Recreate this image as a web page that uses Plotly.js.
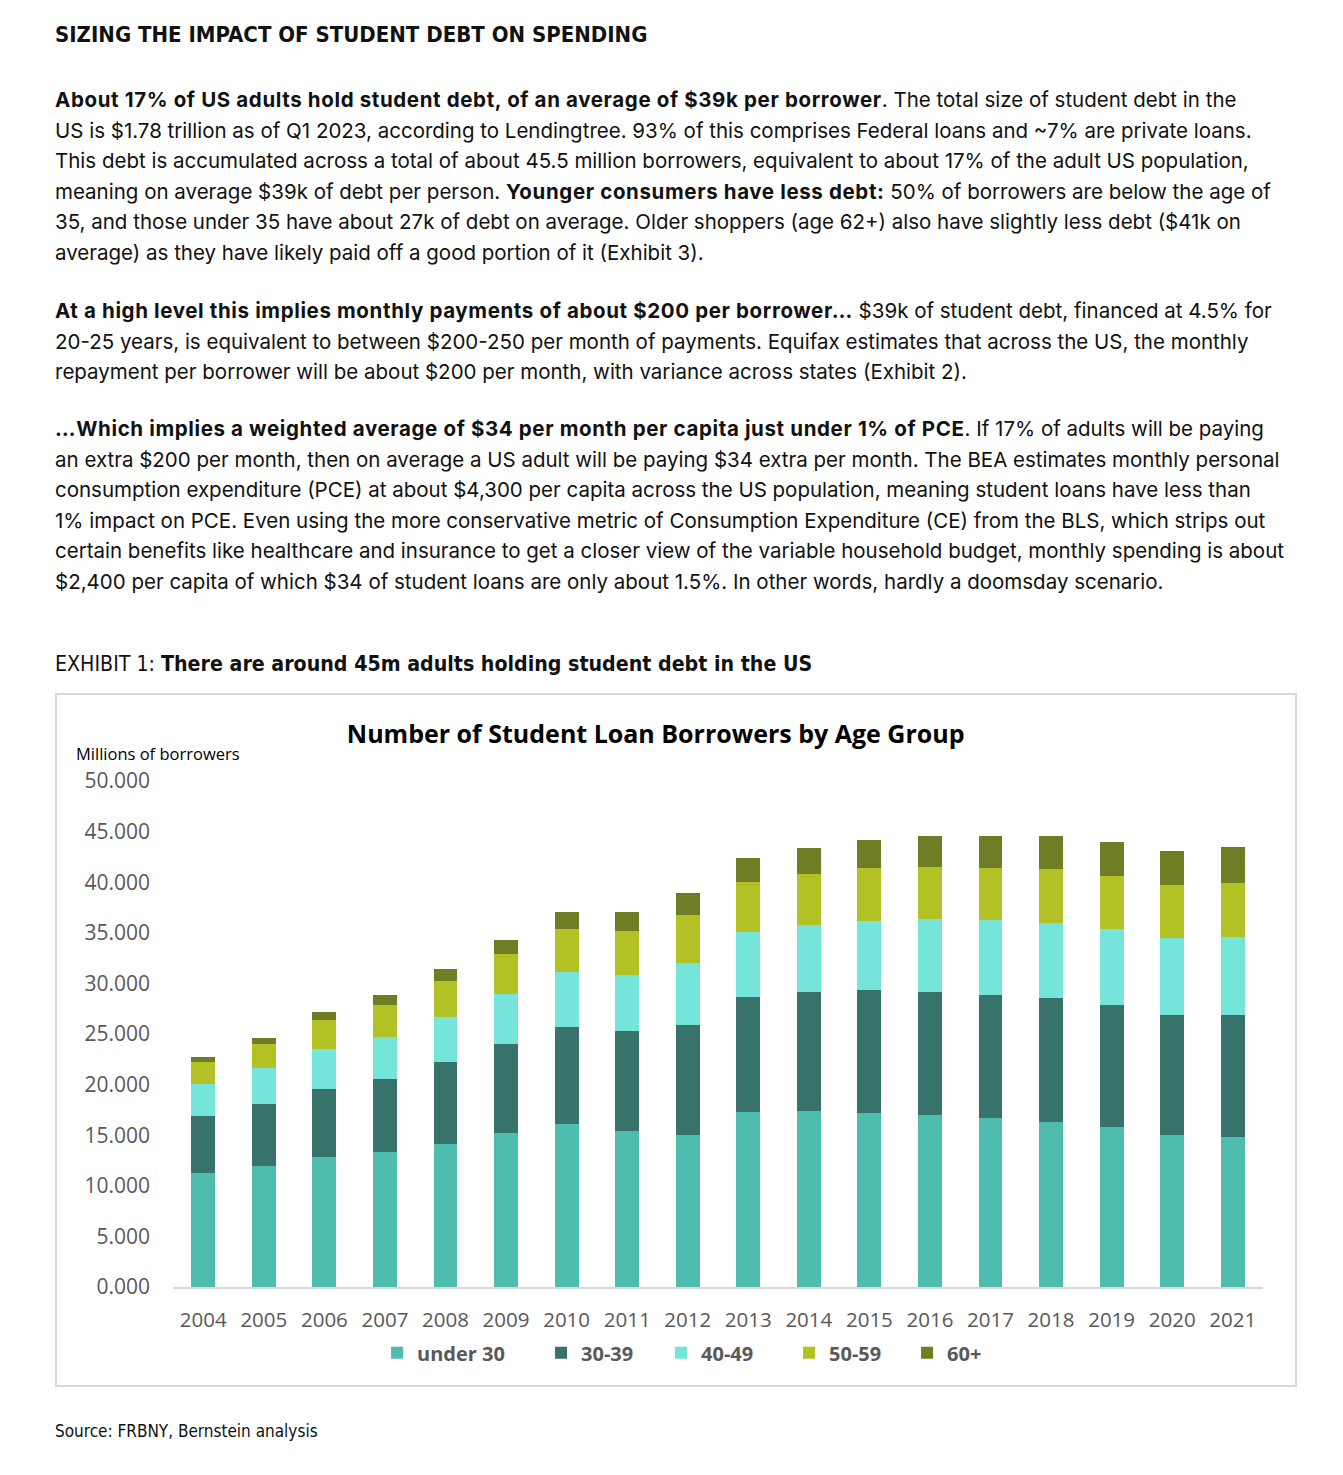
<!DOCTYPE html>
<html>
<head>
<meta charset="utf-8">
<script src="https://cdn.plot.ly/plotly-3.0.1.min.js"></script>
<style>
  html, body { margin: 0; padding: 0; background: #ffffff; }
  body { width: 1343px; height: 1475px; position: relative; overflow: hidden; }
  .narrow { font-family: "Liberation Sans Narrow", "DejaVu Sans Condensed", "Roboto", sans-serif; }
  #heading { position: absolute; left: 55px; top: 20px; line-height: 30px; font-size: 22px; font-weight: bold; color: #111; white-space: nowrap; }
  .para { position: absolute; left: 55px; font-family: "Inter", "Roboto", sans-serif; font-size: 20.5px; line-height: 30.5px; color: #111; white-space: nowrap; }
  .para b { font-weight: 700; letter-spacing: 0.63px; }
  #exhibit { position: absolute; left: 55px; top: 649px; line-height: 30px; font-size: 21.2px; color: #111; white-space: nowrap; }
  #exhibit b { font-weight: bold; }
  #frame { position: absolute; left: 55px; top: 693px; width: 1242px; height: 694px; box-sizing: border-box; border: 2px solid #d9d9d9; }
  #chart { position: absolute; left: 57px; top: 695px; width: 1237px; height: 689px; }
  #source { position: absolute; left: 55px; top: 1418px; line-height: 26px; font-size: 17px; color: #111; white-space: nowrap; }
</style>
</head>
<body>
<div id="heading" class="narrow">SIZING THE IMPACT OF STUDENT DEBT ON SPENDING</div>

<div class="para" style="top:85px;">
<b>About 17% of US adults hold student debt, of an average of $39k per borrower</b>. The total size of student debt in the<br>
US is $1.78 trillion as of Q1 2023, according to Lendingtree. 93% of this comprises Federal loans and ~7% are private loans.<br>
This debt is accumulated across a total of about 45.5 million borrowers, equivalent to about 17% of the adult US population,<br>
meaning on average $39k of debt per person. <b>Younger consumers have less debt:</b> 50% of borrowers are below the age of<br>
35, and those under 35 have about 27k of debt on average. Older shoppers (age 62+) also have slightly less debt ($41k on<br>
average) as they have likely paid off a good portion of it (Exhibit 3).
</div>

<div class="para" style="top:296px;">
<b>At a high level this implies monthly payments of about $200 per borrower…</b> $39k of student debt, financed at 4.5% for<br>
20-25 years, is equivalent to between $200-250 per month of payments. Equifax estimates that across the US, the monthly<br>
repayment per borrower will be about $200 per month, with variance across states (Exhibit 2).
</div>

<div class="para" style="top:414px;">
<b>…Which implies a weighted average of $34 per month per capita just under 1% of PCE</b>. If 17% of adults will be paying<br>
an extra $200 per month, then on average a US adult will be paying $34 extra per month. The BEA estimates monthly personal<br>
consumption expenditure (PCE) at about $4,300 per capita across the US population, meaning student loans have less than<br>
1% impact on PCE. Even using the more conservative metric of Consumption Expenditure (CE) from the BLS, which strips out<br>
certain benefits like healthcare and insurance to get a closer view of the variable household budget, monthly spending is about<br>
$2,400 per capita of which $34 of student loans are only about 1.5%. In other words, hardly a doomsday scenario.
</div>

<div id="exhibit" class="narrow">EXHIBIT 1: <b>There are around 45m adults holding student debt in the US</b></div>

<div id="frame"></div>
<div id="chart"></div>

<div id="source" class="narrow">Source: FRBNY, Bernstein analysis</div>

<script>
// ---- Data (millions of borrowers) ----
var years = ['2004','2005','2006','2007','2008','2009','2010','2011','2012','2013','2014','2015','2016','2017','2018','2019','2020','2021'];
var under30 = [11.30, 11.97, 12.88, 13.34, 14.18, 15.25, 16.15, 15.42, 15.05, 17.32, 17.42, 17.22, 17.02, 16.69, 16.35, 15.85, 15.05, 14.85];
var age30to39 = [5.60, 6.16, 6.72, 7.23, 8.03, 8.80, 9.54, 9.83, 10.87, 11.38, 11.78, 12.08, 12.18, 12.21, 12.21, 12.01, 11.87, 12.04];
var age40to49 = [3.20, 3.47, 3.91, 4.11, 4.51, 4.95, 5.41, 5.55, 6.12, 6.42, 6.59, 6.89, 7.12, 7.32, 7.43, 7.56, 7.60, 7.73];
var age50to59 = [2.10, 2.38, 2.88, 3.18, 3.48, 3.88, 4.25, 4.38, 4.68, 4.88, 4.98, 5.18, 5.18, 5.15, 5.28, 5.15, 5.18, 5.31];
var age60plus = [0.55, 0.67, 0.83, 1.04, 1.24, 1.40, 1.67, 1.91, 2.18, 2.37, 2.64, 2.84, 3.02, 3.18, 3.25, 3.38, 3.38, 3.51];
var seriesNames = ['under 30', '30-39', '40-49', '50-59', '60+'];
var seriesValues = [under30, age30to39, age40to49, age50to59, age60plus];

// ---- Styles ----
var seriesColors = ['#4FBDAD', '#37736A', '#76E5D9', '#B2C224', '#6F7D24'];
var legendWidths = [119, 75, 83, 73, 40];

var chartFont = '"Open Sans", "Noto Sans", sans-serif';

var traces = seriesValues.map(function (vals, i) {
  return {
    type: 'bar',
    name: seriesNames[i],
    x: years,
    y: vals,
    legendwidth: legendWidths[i],
    marker: { color: seriesColors[i], line: { width: 0 } },
    hoverinfo: 'skip'
  };
});

var layout = {
  width: 1237,
  height: 689,
  barmode: 'stack',
  bargap: 0.604,
  paper_bgcolor: '#ffffff',
  plot_bgcolor: '#ffffff',
  margin: { l: 116, r: 31, t: 86, b: 97, pad: 0 },
  font: { family: chartFont, color: '#595959' },
  title: {
    text: '<b>Number of Student Loan Borrowers by Age Group</b>',
    font: { family: chartFont, size: 25, color: '#000000' },
    x: 0.484, xanchor: 'center', xref: 'container',
    y: 0.943, yanchor: 'middle', yref: 'container'
  },
  xaxis: {
    type: 'category',
    showgrid: false,
    zeroline: false,
    showline: true,
    linecolor: '#d9d9d9',
    linewidth: 2,
    ticks: '',
    ticklabelstandoff: 13,
    tickfont: { family: chartFont, size: 20.5, color: '#595959' }
  },
  yaxis: {
    range: [0, 50],
    dtick: 5,
    tick0: 0,
    tickformat: '.3f',
    showgrid: false,
    zeroline: false,
    showline: false,
    ticks: '',
    ticklabelstandoff: 22,
    tickfont: { family: chartFont, size: 21, color: '#595959' }
  },
  legend: {
    orientation: 'h',
    x: 0.1872, xanchor: 'left',
    y: -0.13, yanchor: 'middle',
    font: { family: chartFont, size: 20, color: '#595959', weight: 'bold' },
    itemclick: false, itemdoubleclick: false,
    traceorder: 'normal'
  },
  annotations: [{
    text: 'Millions of borrowers',
    xref: 'paper', yref: 'paper',
    x: -0.091, xanchor: 'left',
    y: 1.055, yanchor: 'middle',
    showarrow: false,
    font: { family: chartFont, size: 16.5, color: '#000000' }
  }],
  hovermode: false,
  showlegend: true
};

Plotly.newPlot('chart', traces, layout, { displayModeBar: false, staticPlot: true });
</script>
</body>
</html>
